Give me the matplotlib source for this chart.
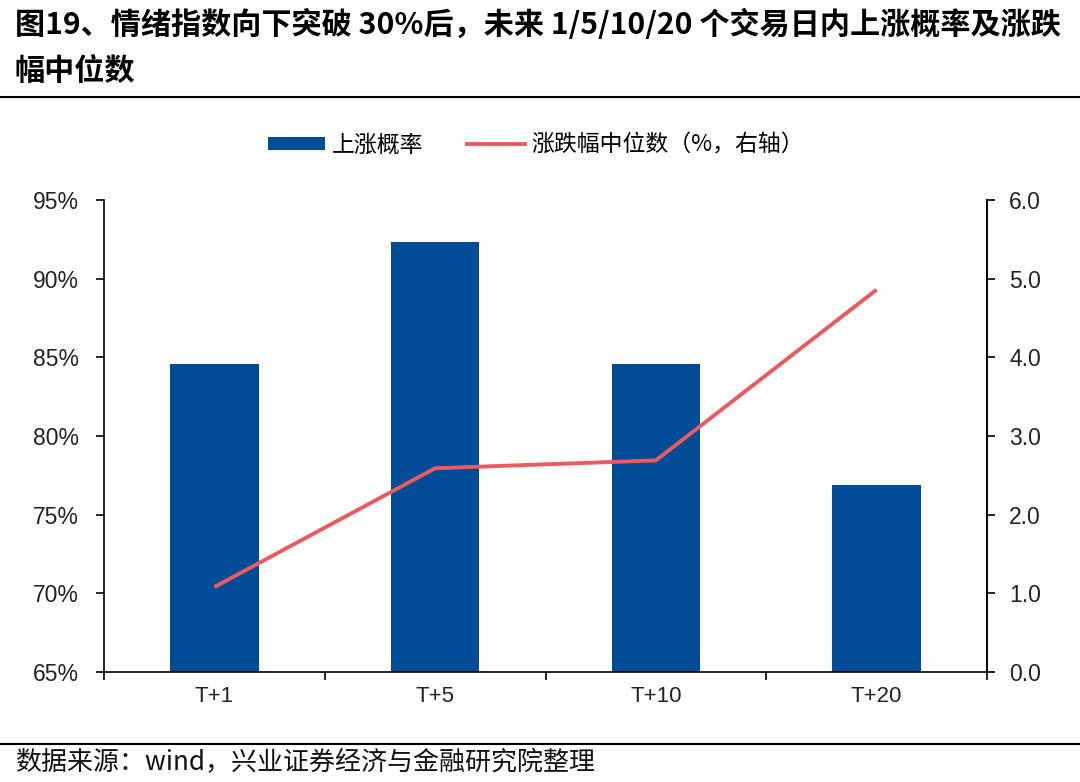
import matplotlib
matplotlib.use("Agg")
import matplotlib.pyplot as plt
from matplotlib.lines import Line2D
from matplotlib.patches import Patch
import numpy as np

plt.rcParams['font.family'] = ['Noto Sans CJK SC', 'DejaVu Sans']

categories = ["T+1", "T+5", "T+10", "T+20"]
up_prob = [84.6, 92.3, 84.6, 76.9]          # 上涨概率 (%)
median_chg = [1.08, 2.59, 2.69, 4.86]       # 涨跌幅中位数 (%, 右轴)
left_ticks = [65, 70, 75, 80, 85, 90, 95]
right_ticks = [0.0, 1.0, 2.0, 3.0, 4.0, 5.0, 6.0]

title1 = "图19、情绪指数向下突破 30%后，未来 1/5/10/20 个交易日内上涨概率及涨跌"
title2 = "幅中位数"
source = "数据来源：wind，兴业证券经济与金融研究院整理"
leg_bar = "上涨概率"
leg_line = "涨跌幅中位数（%，右轴）"

bar_color = "#004C97"
line_color = "#EB5A5E"
tick_font = ['Liberation Sans', 'Noto Sans CJK SC']

W, H = 1080, 782
fig = plt.figure(figsize=(W / 100, H / 100), dpi=100)
ax = fig.add_axes([104 / W, 1 - 672 / H, (987 - 104) / W, (672 - 200) / H])
x = np.arange(len(categories))
ax.bar(x, [v - 65 for v in up_prob], bottom=65, width=0.4, color=bar_color, zorder=2)
ax.set_ylim(65, 95)
ax.set_xlim(-0.5, len(categories) - 0.5)
ax.set_yticks(left_ticks)
ax.set_yticklabels([f"{t}%" for t in left_ticks], fontsize=16.5, family=tick_font, color="#222222")
ax.set_xticks(np.arange(-0.5, len(categories), 1.0))
ax.set_xticklabels([])
ax.set_xticks(x, minor=True)
ax.set_xticklabels(categories, minor=True, fontsize=16, family=tick_font, color="#222222")
ax.tick_params(axis='x', which='minor', length=0, pad=10)
ax.tick_params(axis='x', which='major', length=6, width=1.2, direction='out')
ax.tick_params(axis='y', length=6, width=1.2, direction='out', pad=12)
ax.spines['top'].set_visible(False)
for s in ['left', 'right', 'bottom']:
    ax.spines[s].set_linewidth(1.2)

ax2 = ax.twinx()
ax2.plot(x, median_chg, color=line_color, lw=2.8, zorder=3, solid_capstyle='butt')
ax2.set_ylim(0, 6)
ax2.set_yticks(right_ticks)
ax2.set_yticklabels([f"{t:.1f}" for t in right_ticks], fontsize=16.5, family=tick_font, color="#222222")
ax2.tick_params(axis='y', length=6, width=1.2, direction='out', pad=10)
ax2.spines['top'].set_visible(False)
ax2.spines['right'].set_linewidth(1.2)
ax2.spines['left'].set_visible(False)
ax2.spines['bottom'].set_visible(False)

handles = [Patch(facecolor=bar_color, edgecolor='none'),
           Line2D([0], [0], color=line_color, lw=2.8)]
fig.legend(handles, [leg_bar, leg_line], loc='center', bbox_to_anchor=(536 / W, 1 - 145 / H),
           ncol=2, frameon=False, fontsize=16.5, handlelength=2.5, handleheight=0.5,
           handletextpad=0.3, columnspacing=1.9)

fig.text(15 / W, 1 - 24 / H, title1, fontsize=21.7, fontweight='bold', va='center', ha='left')
fig.text(15 / W, 1 - 71 / H, title2, fontsize=21.7, fontweight='bold', va='center', ha='left')
fig.add_artist(Line2D([0, 1], [1 - 97 / H, 1 - 97 / H], color='black', lw=1.5, transform=fig.transFigure))
fig.add_artist(Line2D([0, 1], [1 - 744 / H, 1 - 744 / H], color='black', lw=1.5, transform=fig.transFigure))
fig.text(15 / W, 1 - 763 / H, source, fontsize=18.7, va='center', ha='left', color='#111111')

fig.savefig("out.png", dpi=100)
